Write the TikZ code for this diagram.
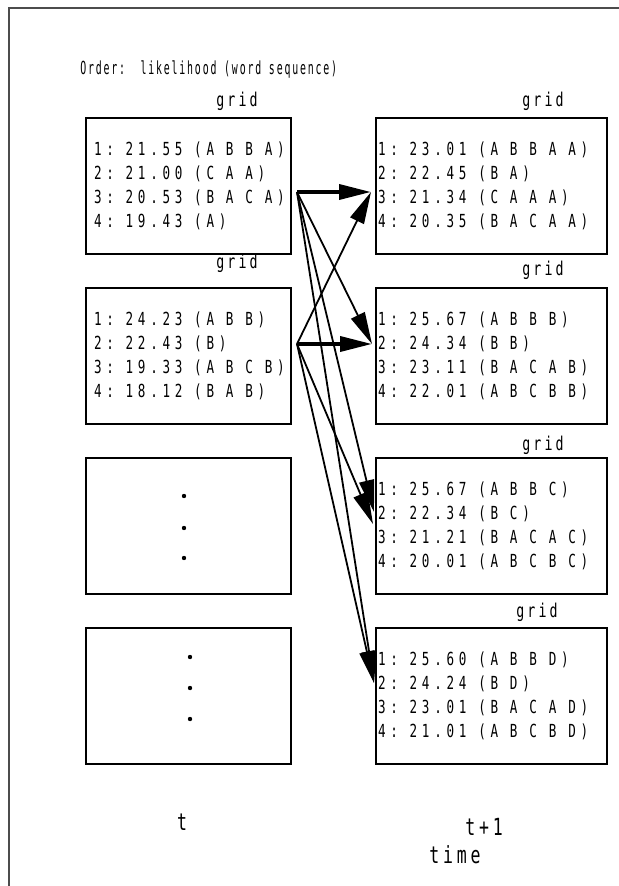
\documentclass[tikz,border=0pt]{standalone}
\usepackage{fontspec}
\usepackage{tikz}
\usetikzlibrary{arrows.meta,positioning}
\newfontfamily\gridfont{DejaVu Sans Mono}[FakeStretch=0.7,LetterSpace=26]
\newfontfamily\lblfont{DejaVu Sans Mono}[FakeStretch=0.7,LetterSpace=16]
\newfontfamily\headfont{DejaVu Sans Mono}[FakeStretch=0.55,LetterSpace=10]
\newcommand\gridtext[1]{\gridfont\fontsize{#1}{12}\selectfont}
\newcommand\lbltext[1]{\lblfont\fontsize{#1}{12}\selectfont}
\newcommand\gp{\nobreak\hspace{0.66em}}
\tikzset{
  cand/.style ={draw, line width=1pt, minimum width=102.5pt, minimum height=68pt, inner xsep=4pt, text width=94.5pt, align=left, font=\gridtext{9}},
  candr/.style={cand, minimum width=115.5pt, inner xsep=1pt, text width=113.5pt},
  lbl/.style  ={inner sep=0pt, anchor=base, font=\lbltext{9.5}},
  tlbl/.style ={lbl, font=\lbltext{11.8}},
  arr/.style  ={-{Triangle[length=16pt,width=7.5pt]}, line width=0.9pt},
  arrb/.style ={arr, line width=1.8pt},
}
\begin{document}
\begin{tikzpicture}[x=0.5pt, y=-0.5pt, node distance=16pt and 41.5pt]
  \useasboundingbox (0,0) rectangle (619,886);
  \draw[line width=0.8pt, black!70] (9,886) -- (9,8) -- (619,8);
  \node[font=\headfont\fontsize{9}{10}\selectfont, anchor=base west, inner sep=0pt] (head) at (80,75) {Order:\ \ likelihood (word sequence)};
  % time t
  \node[cand] (l1) at (188.5,186) {1:\gp 21.55\gp (A\gp B\gp B\gp A)\\2:\gp 21.00\gp (C\gp A\gp A)\\3:\gp 20.53\gp (B\gp A\gp C\gp A)\\4:\gp 19.43\gp (A)};
  \node[cand, below=of l1] (l2) {1:\gp 24.23\gp (A\gp B\gp B)\\2:\gp 22.43\gp (B)\\3:\gp 19.33\gp (A\gp B\gp C\gp B)\\4:\gp 18.12\gp (B\gp A\gp B)};
  \node[cand, below=of l2] (l3) {};
  \node[cand, below=of l3] (l4) {};
  \foreach \dy in {-30,2,32} \fill ([shift={(-4.5,\dy)}]l3.center) circle[radius=1.1pt];
  \foreach \dy in {-39,-8,23} \fill ([shift={(1.5,\dy)}]l4.center) circle[radius=1.1pt];
  % time t+1
  \node[candr, right=of l1] (r1) {1:\gp 23.01\gp (A\gp B\gp B\gp A\gp A)\\2:\gp 22.45\gp (B\gp A)\\3:\gp 21.34\gp (C\gp A\gp A\gp A)\\4:\gp 20.35\gp (B\gp A\gp C\gp A\gp A)};
  \node[candr, right=of l2] (r2) {1:\gp 25.67\gp (A\gp B\gp B\gp B)\\2:\gp 24.34\gp (B\gp B)\\3:\gp 23.11\gp (B\gp A\gp C\gp A\gp B)\\4:\gp 22.01\gp (A\gp B\gp C\gp B\gp B)};
  \node[candr, right=of l3] (r3) {1:\gp 25.67\gp (A\gp B\gp B\gp C)\\2:\gp 22.34\gp (B\gp C)\\3:\gp 21.21\gp (B\gp A\gp C\gp A\gp C)\\4:\gp 20.01\gp (A\gp B\gp C\gp B\gp C)};
  \node[candr, right=of l4] (r4) {1:\gp 25.60\gp (A\gp B\gp B\gp D)\\2:\gp 24.24\gp (B\gp D)\\3:\gp 23.01\gp (B\gp A\gp C\gp A\gp D)\\4:\gp 21.01\gp (A\gp B\gp C\gp B\gp D)};
  % grid labels
  \node[lbl] (gl1) at ([shift={(48.5,-10)}]l1.north) {grid};
  \node[lbl] (gl2) at ([shift={(48.5,-18)}]l2.north) {grid};
  \node[lbl] (gr1) at ([shift={(51.5,-10)}]r1.north) {grid};
  \node[lbl] (gr2) at ([shift={(51.5,-11)}]r2.north) {grid};
  \node[lbl] (gr3) at ([shift={(51.5,-7)}]r3.north) {grid};
  \node[lbl] (gr4) at ([shift={(45.5,-10)}]r4.north) {grid};
  % expansions
  \coordinate (o1) at ([shift={(5,6)}]l1.east);
  \coordinate (o2) at ([shift={(5,-12)}]l2.east);
  \draw[arrb] (o1) -- ([shift={(-4,6)}]r1.west);
  \draw[arr]  (o1) -- ([shift={(-3,-12)}]r2.west);
  \draw[arr]  (o1) -- ([shift={(-1,-14)}]r3.west);
  \draw[arr]  (o1) -- ([shift={(-1,-13)}]r4.west);
  \draw[arr]  (o2) -- ([shift={(-4,6)}]r1.west);
  \draw[arrb] (o2) -- ([shift={(-3,-12)}]r2.west);
  \draw[arr]  (o2) -- ([shift={(-2,-2)}]r3.west);
  \draw[arr]  (o2) -- ([shift={(-1,-13)}]r4.west);
  % axis
  \node[tlbl] (tnow) at (182,830) {t};
  \node[tlbl] (tnext) at (484,835) {t+1};
  \node[tlbl] (tax) at (455,863) {time};
\end{tikzpicture}
\end{document}
